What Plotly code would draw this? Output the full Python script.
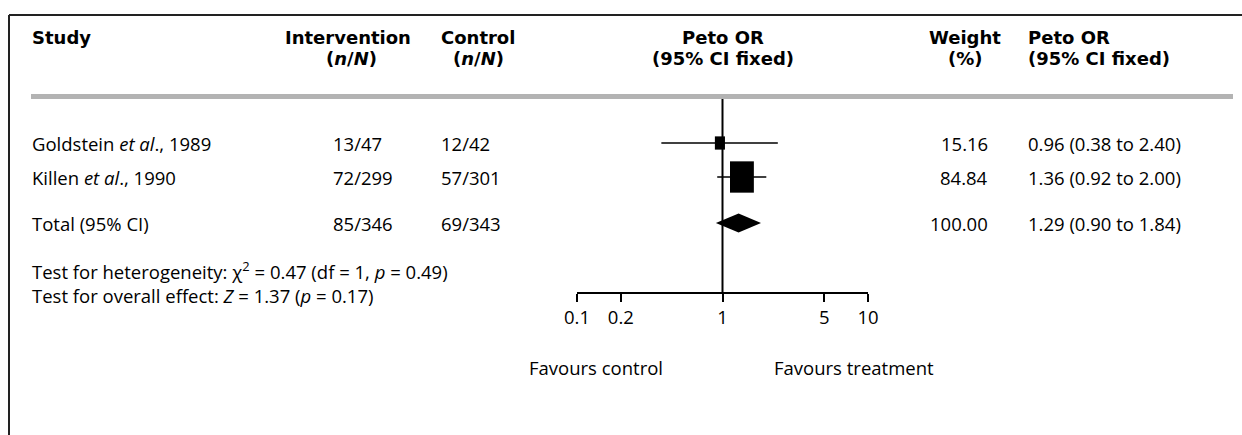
import plotly.graph_objects as go
import numpy as np

# ---- data ----
studies = ["Goldstein <i>et al</i>., 1989", "Killen <i>et al</i>., 1990"]
intervention = ["13/47", "72/299"]
control = ["12/42", "57/301"]
weights = [15.16, 84.84]
peto_or = [0.96, 1.36]
ci_low = [0.38, 0.92]
ci_high = [2.40, 2.00]

total_label = "Total (95% CI)"
total_intervention = "85/346"
total_control = "69/343"
total_weight = 100.00
total_or = 1.29
total_low = 0.90
total_high = 1.84

tick_vals = [0.1, 0.2, 1, 5, 10]
tick_text = ["0.1", "0.2", "1", "5", "10"]

heterogeneity_text = "Test for heterogeneity: χ<sup>2</sup> = 0.47 (df = 1, <i>p</i> = 0.49)"
overall_text = "Test for overall effect: <i>Z</i> = 1.37 (<i>p</i> = 0.17)"
favours_left = "Favours control"
favours_right = "Favours treatment"

# ---- layout constants (pixels) ----
W, H = 1242, 435
FONT = "'Open Sans', Lato, sans-serif"
BOLD_FONT = "'DejaVu Sans', 'Open Sans', sans-serif"
FS = 18.5
FS_BOLD = 18
row_y = [143, 177]
total_y = 223
axis_y = 293
header_y1, header_y2 = 37, 58
sep_y = 96.5
plot_left, plot_right = 577, 868

# study box size per sqrt(weight): width in log10 units, height in pixels
BOX_W = 0.0178
BOX_H = 3.4


def px(x):
    return x / W


fig = go.Figure()

# reference line at OR = 1
fig.add_trace(go.Scatter(x=[1, 1], y=[sep_y + 2.5, axis_y], mode="lines",
                         line=dict(color="black", width=2), hoverinfo="skip"))

# confidence interval whiskers
wx, wy = [], []
for lo, hi, y in zip(ci_low, ci_high, row_y):
    wx += [lo, hi, None]
    wy += [y, y, None]
fig.add_trace(go.Scatter(x=wx, y=wy, mode="lines",
                         line=dict(color="black", width=1.5), hoverinfo="skip"))

# pooled estimate diamond
dh = 9.5
fig.add_trace(go.Scatter(
    x=[total_low, total_or, total_high, total_or, total_low],
    y=[total_y, total_y - dh, total_y, total_y + dh, total_y],
    mode="lines", fill="toself", fillcolor="black",
    line=dict(color="black", width=0), hoverinfo="skip"))

shapes = []
# study boxes sized by weight
for est, w, y in zip(peto_or, weights, row_y):
    half_w = BOX_W * np.sqrt(w) / 2
    half_h = BOX_H * np.sqrt(w) / 2
    shapes.append(dict(type="rect", xref="x", yref="y",
                       x0=est * 10 ** (-half_w), x1=est * 10 ** half_w,
                       y0=y - half_h, y1=y + half_h,
                       fillcolor="black", line=dict(width=0)))

# frame lines and header separator
shapes.append(dict(type="line", xref="paper", yref="y", x0=px(9), x1=1, y0=15, y1=15,
                   line=dict(color="#222", width=2)))
shapes.append(dict(type="line", xref="paper", yref="y", x0=px(9), x1=px(9), y0=15, y1=H,
                   line=dict(color="#222", width=2)))
shapes.append(dict(type="line", xref="paper", yref="y", x0=px(31), x1=px(1233), y0=sep_y, y1=sep_y,
                   line=dict(color="#b3b3b3", width=5)))

ann = []


def text(x, y, s, anchor="left", bold=False):
    family, size = FONT, FS
    if bold:
        s = "<b>" + s + "</b>"
        family, size = BOLD_FONT, FS_BOLD
    ann.append(dict(x=px(x), y=y, xref="paper", yref="y", text=s, showarrow=False,
                    xanchor=anchor, yanchor="middle", borderpad=0, align=anchor,
                    font=dict(family=family, size=size, color="black")))


# headers
text(31, header_y1, "Study", bold=True)
text(348, header_y1, "Intervention", "center", True)
text(351, header_y2, "(<i>n</i>/<i>N</i>)", "center", True)
text(478, header_y1, "Control", "center", True)
text(478, header_y2, "(<i>n</i>/<i>N</i>)", "center", True)
text(723, header_y1, "Peto OR", "center", True)
text(723, header_y2, "(95% CI fixed)", "center", True)
text(965, header_y1, "Weight", "center", True)
text(965, header_y2, "(%)", "center", True)
text(1027, header_y1, "Peto OR", bold=True)
text(1027, header_y2, "(95% CI fixed)", bold=True)

# study rows
for i, y in enumerate(row_y):
    text(31, y, studies[i])
    text(332, y, intervention[i])
    text(440, y, control[i])
    text(989, y, f"{weights[i]:.2f}", "right")
    text(1027, y, f"{peto_or[i]:.2f} ({ci_low[i]:.2f} to {ci_high[i]:.2f})")

# total row
text(31, total_y, total_label)
text(332, total_y, total_intervention)
text(440, total_y, total_control)
text(989, total_y, f"{total_weight:.2f}", "right")
text(1027, total_y, f"{total_or:.2f} ({total_low:.2f} to {total_high:.2f})")

# test statistics, two lines in one block
text(31, 282.5, heterogeneity_text + "<br>" + overall_text)

# favours labels
text(528, 367, favours_left)
text(773, 367, favours_right)

fig.update_layout(
    template="none",
    width=W, height=H,
    margin=dict(l=0, r=0, t=0, b=0, pad=0, autoexpand=False),
    paper_bgcolor="white", plot_bgcolor="white",
    showlegend=False,
    shapes=shapes, annotations=ann,
    xaxis=dict(type="log", range=[-1, 1], domain=[px(plot_left), px(plot_right)],
               anchor="free", position=1 - axis_y / H, automargin=False,
               showline=True, linecolor="black", linewidth=2,
               ticks="outside", ticklen=8, tickwidth=2, tickcolor="black",
               tickvals=tick_vals, ticktext=tick_text,
               tickfont=dict(family=FONT, size=FS, color="black"),
               showgrid=False, zeroline=False, fixedrange=True),
    yaxis=dict(range=[H, 0], domain=[0, 1], visible=False, showgrid=False,
               zeroline=False, fixedrange=True, automargin=False),
)

fig.write_html("out.html")
